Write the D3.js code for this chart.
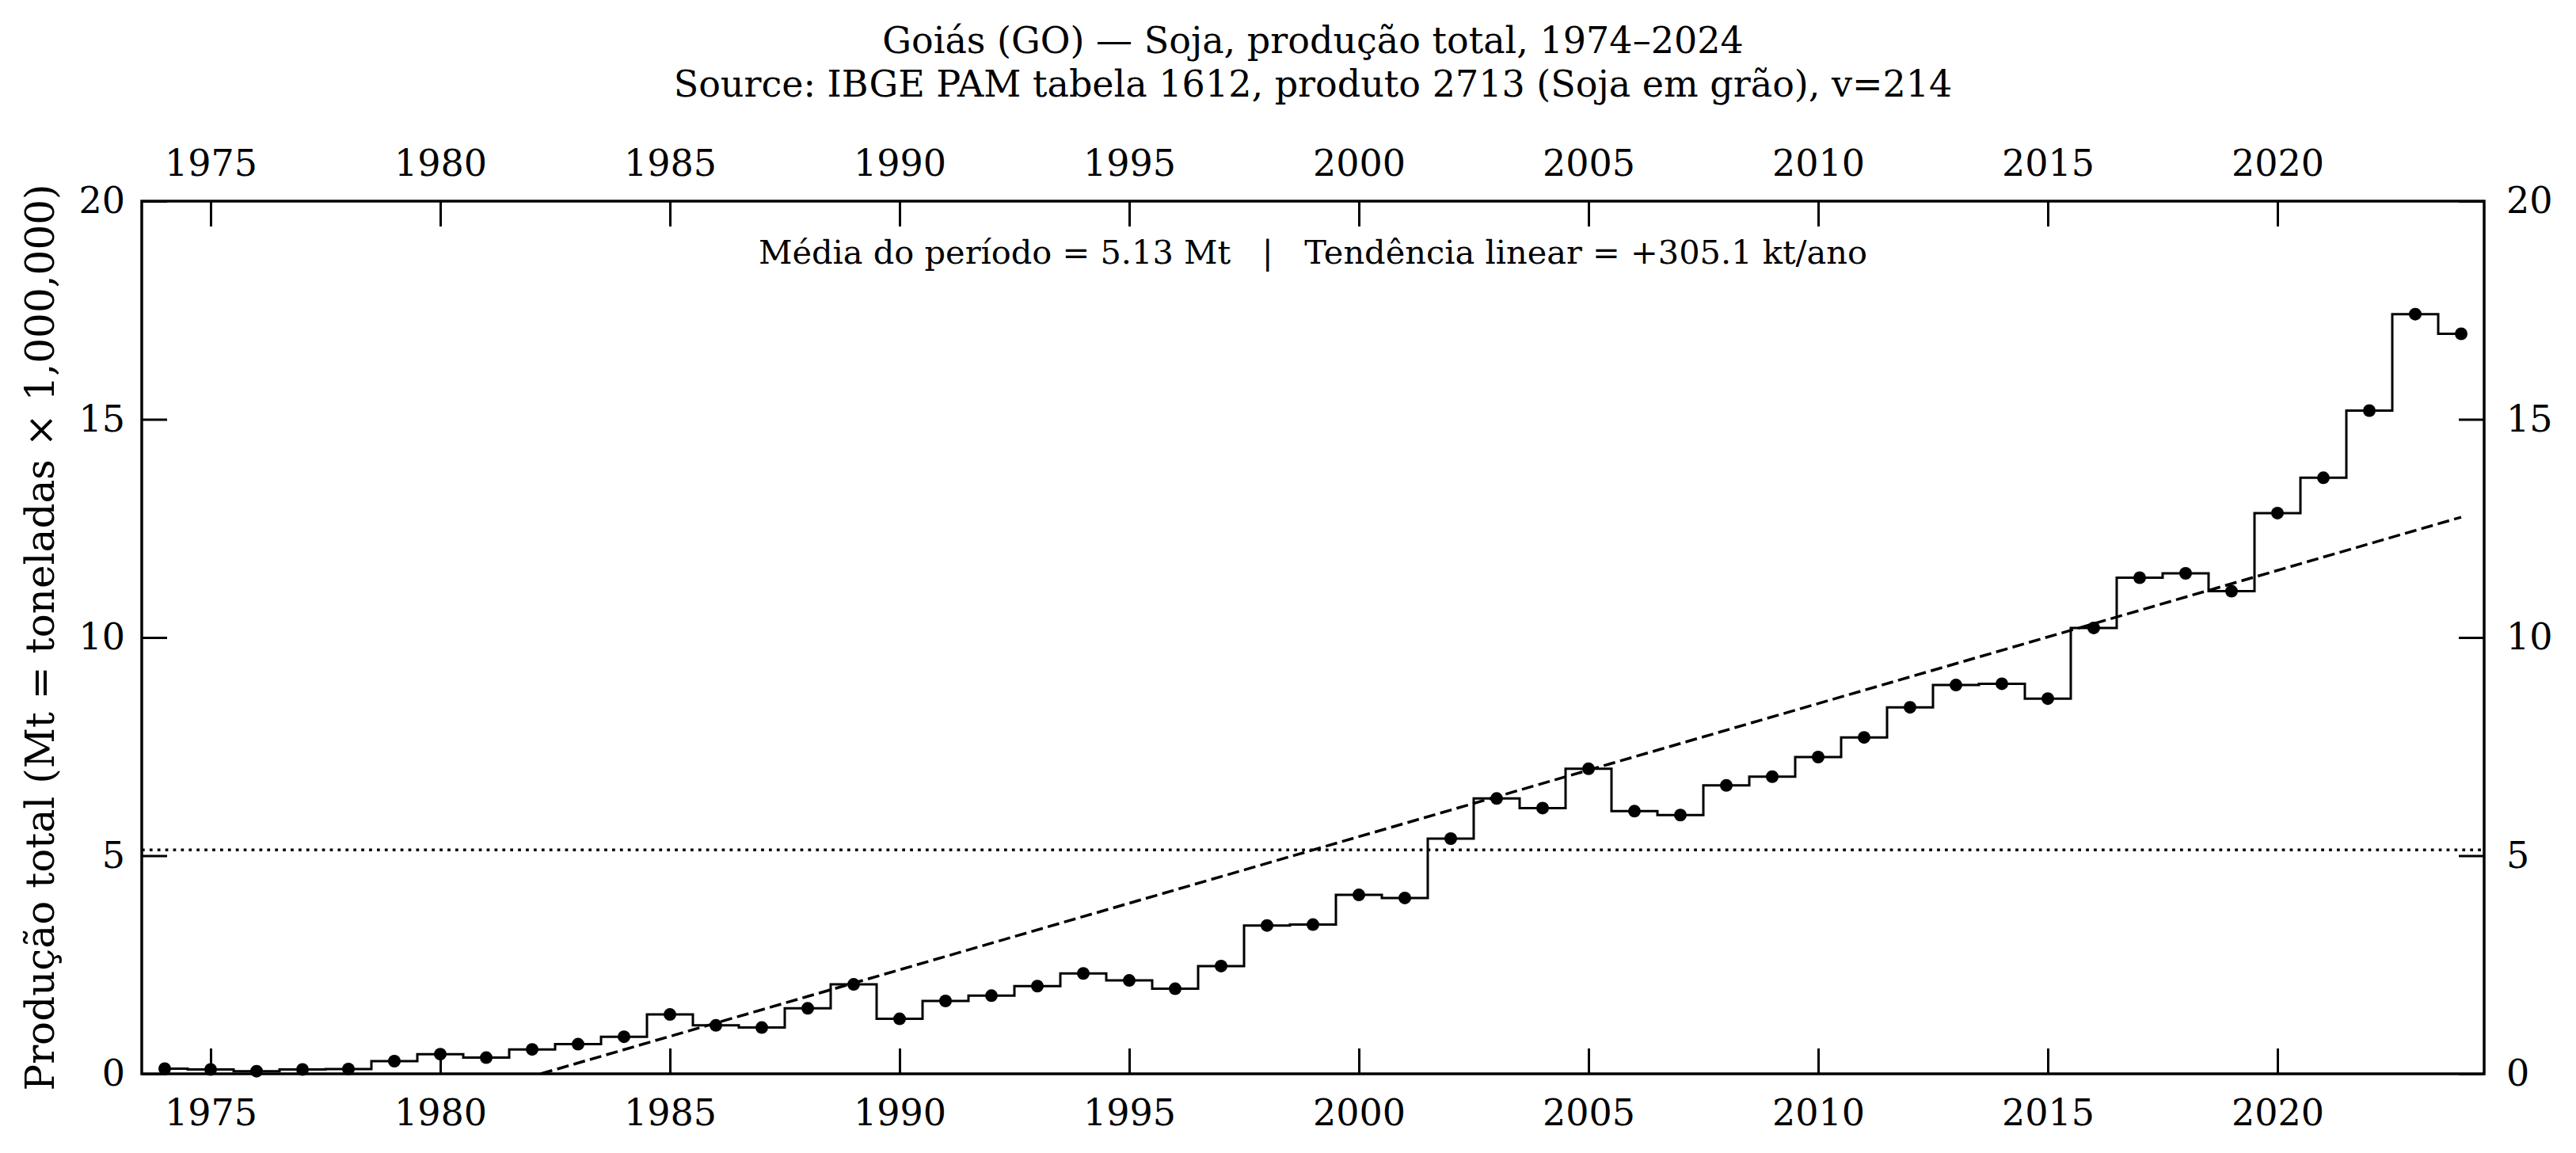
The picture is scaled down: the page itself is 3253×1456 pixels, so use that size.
<!DOCTYPE html>
<html>
<head>
<meta charset="utf-8">
<script src="https://cdn.jsdelivr.net/npm/d3@7"></script>
<style>
  html, body { margin: 0; padding: 0; background: #fff; }
  svg { display: block; }
  text { font-family: "DejaVu Serif", serif; fill: #000; }
</style>
</head>
<body>
<svg id="chart"></svg>
<script>
// years and soybean production (Mt)
const years = d3.range(1974, 2025);
const production = [
  0.12, 0.10, 0.06, 0.10, 0.11, 0.29, 0.45, 0.37, 0.56, 0.68,
  0.85, 1.36, 1.11, 1.06, 1.50, 2.05, 1.26, 1.67, 1.79, 2.01,
  2.30, 2.14, 1.95, 2.47, 3.40, 3.42, 4.10, 4.03, 5.39, 6.31,
  6.09, 6.99, 6.02, 5.93, 6.61, 6.81, 7.26, 7.71, 8.40, 8.91,
  8.94, 8.60, 10.22, 11.37, 11.47, 11.06, 12.85, 13.66, 15.20, 17.41,
  16.96
];
const xTicks = [1975, 1980, 1985, 1990, 1995, 2000, 2005, 2010, 2015, 2020];
const yTicks = [0, 5, 10, 15, 20];

// statistics printed on the chart
const meanMt = 5.13;
const trendKtPerYear = 305.1;

const titleLines = [
  "Goiás (GO) — Soja, produção total, 1974–2024",
  "Source: IBGE PAM tabela 1612, produto 2713 (Soja em grão), v=214"
];
const yLabel = "Produção total (Mt = toneladas × 1,000,000)";
const note = `Média do período = ${meanMt.toFixed(2)} Mt   |   Tendência linear = +${trendKtPerYear.toFixed(1)} kt/ano`;

const W = 3253, H = 1456;
const plot = { left: 179, right: 3137, top: 254, bottom: 1356 };

const svg = d3.select("#chart").attr("width", W).attr("height", H);

const x = d3.scaleLinear().domain([1973.5, 2024.5]).range([plot.left, plot.right]);
const y = d3.scaleLinear().domain([0, 20]).range([plot.bottom, plot.top]);

svg.append("defs").append("clipPath").attr("id", "clip")
  .append("rect")
  .attr("x", plot.left).attr("y", plot.top)
  .attr("width", plot.right - plot.left).attr("height", plot.bottom - plot.top);

const data = years.map((yr, i) => ({ year: yr, value: production[i] }));

const g = svg.append("g").attr("clip-path", "url(#clip)");

// mean line
g.append("line")
  .attr("x1", plot.left).attr("x2", plot.right)
  .attr("y1", y(meanMt)).attr("y2", y(meanMt))
  .attr("stroke", "#000").attr("stroke-width", 3.5)
  .attr("stroke-dasharray", "3.7,6.2");

// linear trend, through the mean at the centre year
const midYear = d3.mean(years);
const trend = yr => meanMt + trendKtPerYear / 1000 * (yr - midYear);
g.append("line")
  .attr("x1", x(years[0])).attr("y1", y(trend(years[0])))
  .attr("x2", x(years[years.length - 1])).attr("y2", y(trend(years[years.length - 1])))
  .attr("stroke", "#000").attr("stroke-width", 3.5)
  .attr("stroke-dasharray", "15,6.5");

// step line
const stepLine = d3.line()
  .x(d => x(d.year))
  .y(d => y(d.value))
  .curve(d3.curveStep);
g.append("path")
  .datum(data)
  .attr("d", stepLine)
  .attr("fill", "none")
  .attr("stroke", "#000")
  .attr("stroke-width", 3);

svg.append("g").selectAll("circle")
  .data(data)
  .join("circle")
  .attr("cx", d => x(d.year))
  .attr("cy", d => y(d.value))
  .attr("r", 8)
  .attr("fill", "#000");

// axes, ticks pointing inward
const fontSize = 46;
const tickLen = 32;
function styleAxis(sel) {
  sel.select(".domain").remove();
  sel.selectAll(".tick line").attr("stroke", "#000").attr("stroke-width", 3);
  sel.selectAll(".tick text")
    .attr("font-family", "DejaVu Serif")
    .attr("font-size", fontSize)
    .attr("fill", "#000");
}

svg.append("g")
  .attr("transform", `translate(0,${plot.bottom})`)
  .call(d3.axisBottom(x).tickValues(xTicks).tickFormat(d3.format("d"))
    .tickSize(-tickLen).tickPadding(32))
  .call(styleAxis);

svg.append("g")
  .attr("transform", `translate(0,${plot.top})`)
  .call(d3.axisTop(x).tickValues(xTicks).tickFormat(d3.format("d"))
    .tickSize(-tickLen).tickPadding(32))
  .call(styleAxis);

svg.append("g")
  .attr("transform", `translate(${plot.left},0)`)
  .call(d3.axisLeft(y).tickValues(yTicks).tickFormat(d3.format("d"))
    .tickSize(-tickLen).tickPadding(21))
  .call(styleAxis);

svg.append("g")
  .attr("transform", `translate(${plot.right},0)`)
  .call(d3.axisRight(y).tickValues(yTicks).tickFormat(d3.format("d"))
    .tickSize(-tickLen).tickPadding(28))
  .call(styleAxis);

// frame
svg.append("rect")
  .attr("x", plot.left).attr("y", plot.top)
  .attr("width", plot.right - plot.left).attr("height", plot.bottom - plot.top)
  .attr("fill", "none").attr("stroke", "#000").attr("stroke-width", 3.5);

// titles
const cx = (plot.left + plot.right) / 2;
svg.append("text")
  .attr("x", cx).attr("y", 67)
  .attr("text-anchor", "middle").attr("font-size", fontSize)
  .text(titleLines[0]);
svg.append("text")
  .attr("x", cx).attr("y", 122)
  .attr("text-anchor", "middle").attr("font-size", fontSize)
  .text(titleLines[1]);

svg.append("text")
  .attr("x", cx).attr("y", 333)
  .attr("text-anchor", "middle").attr("font-size", 41.5)
  .attr("xml:space", "preserve")
  .style("white-space", "pre")
  .text(note);

svg.append("text")
  .attr("transform", `translate(68,${(plot.top + plot.bottom) / 2}) rotate(-90)`)
  .attr("text-anchor", "middle").attr("font-size", 50)
  .text(yLabel);
</script>
</body>
</html>
